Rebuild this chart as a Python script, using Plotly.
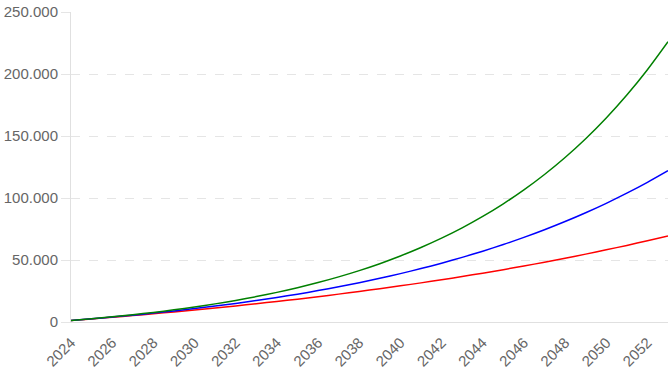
import plotly.graph_objects as go

years = list(range(2024, 2054))

red_4pct = [1222, 2494, 3818, 5196, 6630, 8122, 9676, 11292, 12974, 14725,
            16547, 18444, 20417, 22472, 24609, 26834, 29150, 31560, 34068, 36678,
            39395, 42222, 45164, 48227, 51414, 54731, 58183, 61775, 65515, 69406]

blue_7pct = [1239, 2568, 3993, 5521, 7159, 8916, 10800, 12820, 14986, 17308,
             19799, 22469, 25333, 28404, 31696, 35227, 39013, 43072, 47425, 52093,
             57098, 62464, 68219, 74390, 81007, 88102, 95710, 103869, 112617, 121997]

green_10pct = [1257, 2645, 4178, 5872, 7744, 9811, 12095, 14618, 17405, 20485,
               23886, 27644, 31795, 36381, 41447, 47044, 53226, 60056, 67602, 75937,
               85145, 95318, 106555, 118969, 132684, 147834, 164571, 183060, 203485, 226049]

x_ticks = list(range(2024, 2053, 2))
y_ticks = [0, 50000, 100000, 150000, 200000, 250000]

fig = go.Figure()
for vals, col in [(red_4pct, "red"), (blue_7pct, "blue"), (green_10pct, "green")]:
    fig.add_trace(go.Scatter(x=years, y=vals, mode="lines",
                             line=dict(color=col, width=1.5, shape="spline", smoothing=0.8),
                             showlegend=False))

font = dict(family="Liberation Sans, Arial, sans-serif", size=15, color="#666666")

fig.update_layout(
    width=670, height=377,
    margin=dict(l=71, r=2, t=12, b=55),
    paper_bgcolor="white", plot_bgcolor="white",
    separators=",.",
    font=font,
)
fig.update_xaxes(
    range=[2024, 2053], tickvals=x_ticks, ticktext=[str(v) for v in x_ticks],
    tickangle=-45, ticklabelstandoff=5, showgrid=False, zeroline=False, automargin=False,
    showline=True, linecolor="#e0e0e0", linewidth=1,
    ticks="", tickfont=font,
)
fig.update_yaxes(
    range=[0, 250000], tickvals=y_ticks, tickformat=",.0f", automargin=False,
    showgrid=True, gridcolor="#e5e5e5", griddash="dash", gridwidth=1,
    zeroline=False, showline=True, linecolor="#e0e0e0", linewidth=1,
    ticks="outside", ticklen=9, tickcolor="#e5e5e5", tickfont=font,
)

fig.write_html(
    "out.html",
    config={"displayModeBar": False},
    post_script="document.body.style.margin='0px';document.body.style.overflow='hidden';",
)
